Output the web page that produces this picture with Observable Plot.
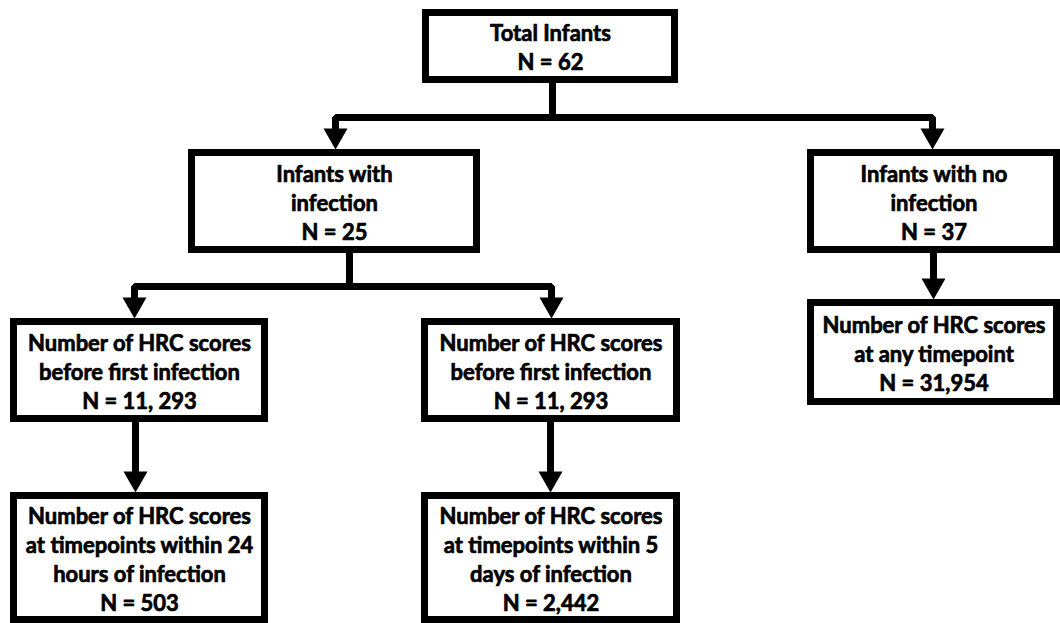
<!DOCTYPE html>
<html>
<head>
<meta charset="utf-8">
<script src="https://cdn.jsdelivr.net/npm/d3@7"></script>
<script src="https://cdn.jsdelivr.net/npm/@observablehq/plot@0.6"></script>
<style>
  html, body { margin: 0; padding: 0; background: #fff; overflow: hidden; }
  #chart svg { display: block; }
</style>
</head>
<body>
<div id="chart"></div>
<script>
// ---- Flowchart content ----
const nodeIds = ["total", "inf", "noinf", "hrcA", "hrcB", "anyTime", "win24", "win5"];
const nodeTitles = [
  "Total Infants",
  "Infants with\ninfection",
  "Infants with no\ninfection",
  "Number of HRC scores\nbefore first infection",
  "Number of HRC scores\nbefore first infection",
  "Number of HRC scores\nat any timepoint",
  "Number of HRC scores\nat timepoints within 24\nhours of infection",
  "Number of HRC scores\nat timepoints within 5\ndays of infection"
];
const nodeCounts = ["62", "25", "37", "11, 293", "11, 293", "31,954", "503", "2,442"];

// ---- Layout (outer box edges, pixels) ----
const boxLeft   = [422, 188, 807,  10, 421, 807,  10, 421];
const boxRight  = [678, 480, 1060, 268, 680, 1060, 268, 680];
const boxTop    = [  9, 149, 149, 318, 318, 299, 492, 492];
const boxBottom = [ 83, 253, 253, 422, 422, 405, 623, 623];

// connector paths (id, x, y) and arrow tips
const connPath = [0,0,0,0, 1,1, 2,2,2,2, 3,3, 4,4, 5,5, 6,6];
const connX    = [335,335,932,932, 552,552, 134,134,551,551, 349,349, 135,135, 550,550, 933,933];
const connY    = [133,117,117,133, 80,117, 302,286,286,302, 250,286, 420,476, 420,476, 250,282];
const tipX = [335, 932, 134, 551, 135, 550, 933];
const tipY = [149, 149, 318, 318, 492, 492, 299];

const SW = 7;
const boxes = nodeIds.map((id, i) => ({
  id,
  label: nodeTitles[i] + "\nN = " + nodeCounts[i],
  x1: boxLeft[i] + SW / 2, x2: boxRight[i] - SW / 2,
  y1: boxTop[i] + SW / 2, y2: boxBottom[i] - SW / 2,
  cx: (boxLeft[i] + boxRight[i]) / 2, cy: (boxTop[i] + boxBottom[i]) / 2
}));
const conns = connPath.map((p, i) => ({path: p, x: connX[i], y: connY[i]}));
const tips = tipX.map((x, i) => ({x, y: tipY[i]}));

const arrowHead = {
  draw(ctx) {
    ctx.moveTo(-12, -21);
    ctx.lineTo(12, -21);
    ctx.lineTo(0, 0);
    ctx.closePath();
  }
};

const chart = Plot.plot({
  width: 1060,
  height: 623,
  margin: 0,
  x: {domain: [0, 1060], range: [0, 1060], axis: null},
  y: {domain: [0, 623], range: [0, 623], axis: null},
  style: {background: "white"},
  marks: [
    Plot.line(conns, {x: "x", y: "y", z: "path", stroke: "black", strokeWidth: SW,
      strokeLinejoin: "miter", strokeLinecap: "butt"}),
    Plot.rect(boxes, {x1: "x1", x2: "x2", y1: "y1", y2: "y2", fill: "white",
      stroke: "black", strokeWidth: SW}),
    Plot.dot(tips, {x: "x", y: "y", symbol: arrowHead, fill: "black", stroke: "none", r: 5}),
    Plot.text(boxes, {x: "cx", y: "cy", text: "label", fontSize: 22, fontWeight: "bold",
      fontFamily: "Lato", lineHeight: 1.32, fill: "black", stroke: "black", strokeWidth: 0.7,
      textAnchor: "middle"})
  ]
});
document.getElementById("chart").appendChild(chart);
</script>
</body>
</html>
